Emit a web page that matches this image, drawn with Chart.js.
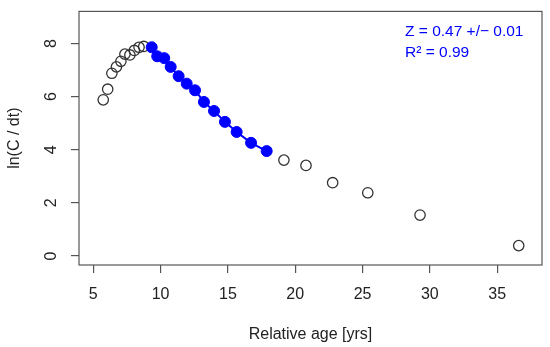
<!DOCTYPE html>
<html>
<head>
<meta charset="utf-8">
<script src="https://cdn.jsdelivr.net/npm/chart.js@4"></script>
<style>
  html, body { margin: 0; padding: 0; background: #fff; }
  #wrap { width: 550px; height: 347px; }
</style>
</head>
<body>
<div id="wrap"><canvas id="chart"></canvas></div>
<script>
// points left out of the fit (open circles)
const openX = [5.74, 6.07, 6.38, 6.72, 7.05, 7.35, 7.72, 8.05, 8.4, 8.75, 19.16, 20.8, 22.78, 25.39, 29.27, 36.6]
const openY = [5.88, 6.28, 6.88, 7.12, 7.33, 7.6, 7.57, 7.74, 7.86, 7.89, 3.61, 3.41, 2.76, 2.38, 1.54, 0.39]

// points used for the fit (blue, joined by a line)
const fitX = [9.34, 9.75, 10.27, 10.75, 11.34, 11.94, 12.56, 13.22, 13.97, 14.78, 15.65, 16.72, 17.88]
const fitY = [7.86, 7.52, 7.45, 7.12, 6.77, 6.49, 6.24, 5.8, 5.46, 5.05, 4.67, 4.26, 3.95]

const xTicks = [5, 10, 15, 20, 25, 30, 35]
const yTicks = [0, 2, 4, 6, 8]
const statLines = ["Z = 0.47 +/\u2212 0.01", "R\u00b2 = 0.99"]

const toPts = (xs, ys) => xs.map((x, i) => ({ x: x, y: ys[i] }))
const font = "'Liberation Sans', Arial, sans-serif"
const axisCol = "#555"

const boxPlugin = {
    id: "box",
    afterDraw(chart) {
        const ctx = chart.ctx
        const a = chart.chartArea
        ctx.save()
        ctx.strokeStyle = axisCol
        ctx.lineWidth = 1.2
        ctx.strokeRect(a.left, a.top, a.right - a.left, a.bottom - a.top)

        // y tick labels, rotated like R does
        const ys = chart.scales.y
        ctx.fillStyle = "#222"
        ctx.font = "16px " + font
        ctx.textAlign = "center"
        ctx.textBaseline = "middle"
        yTicks.forEach((v) => {
            const py = ys.getPixelForValue(v)
            ctx.save()
            ctx.translate(52, py)
            ctx.rotate(-Math.PI / 2)
            ctx.fillText(String(v), 0, 0)
            ctx.restore()
        })

        // fit stats
        ctx.fillStyle = "#0000ff"
        ctx.font = "15.5px " + font
        ctx.textAlign = "left"
        ctx.fillText(statLines[0], 405, 32)
        ctx.fillText(statLines[1], 405, 53)
        ctx.restore()
    }
}

new Chart(document.querySelector("#chart"), {
    type: "scatter",
    data: {
        datasets: [
            {
                data: toPts(fitX, fitY),
                backgroundColor: "#0000ff",
                borderColor: "#0000ff",
                borderWidth: 2,
                pointRadius: 5.5,
                pointBorderWidth: 1,
                showLine: true
            },
            {
                data: toPts(openX, openY),
                backgroundColor: "rgba(0,0,0,0)",
                borderColor: "#333",
                borderWidth: 1.3,
                pointRadius: 5.2
            }
        ]
    },
    options: {
        responsive: true,
        maintainAspectRatio: false,
        animation: false,
        layout: { padding: { left: 0, top: 11, right: 8, bottom: 0 } },
        plugins: { legend: { display: false }, tooltip: { enabled: false } },
        scales: {
            x: {
                type: "linear",
                min: 3.94,
                max: 38.33,
                afterBuildTicks: (s) => { s.ticks = xTicks.map((v) => ({ value: v })) },
                afterFit: (s) => { s.height = 82 },
                border: { display: false },
                grid: { drawOnChartArea: false, drawTicks: true, tickLength: 8, color: axisCol, lineWidth: 1.2 },
                ticks: { color: "#222", font: { size: 16, family: font }, padding: 12, maxRotation: 0 },
                title: { display: true, text: "Relative age [yrs]", color: "#222", font: { size: 16, family: font }, padding: { top: 0, bottom: 3 } }
            },
            y: {
                type: "linear",
                min: -0.34,
                max: 9.21,
                afterBuildTicks: (s) => { s.ticks = yTicks.map((v) => ({ value: v })) },
                afterFit: (s) => { s.width = 79 },
                border: { display: false },
                grid: { drawOnChartArea: false, drawTicks: true, tickLength: 8, color: axisCol, lineWidth: 1.2 },
                ticks: { color: "rgba(0,0,0,0)", font: { size: 14, family: font } },
                title: { display: true, text: "ln(C / dt)", color: "#222", font: { size: 16, family: font }, padding: { top: 5, bottom: 0 } }
            }
        }
    },
    plugins: [boxPlugin]
})
</script>
</body>
</html>
